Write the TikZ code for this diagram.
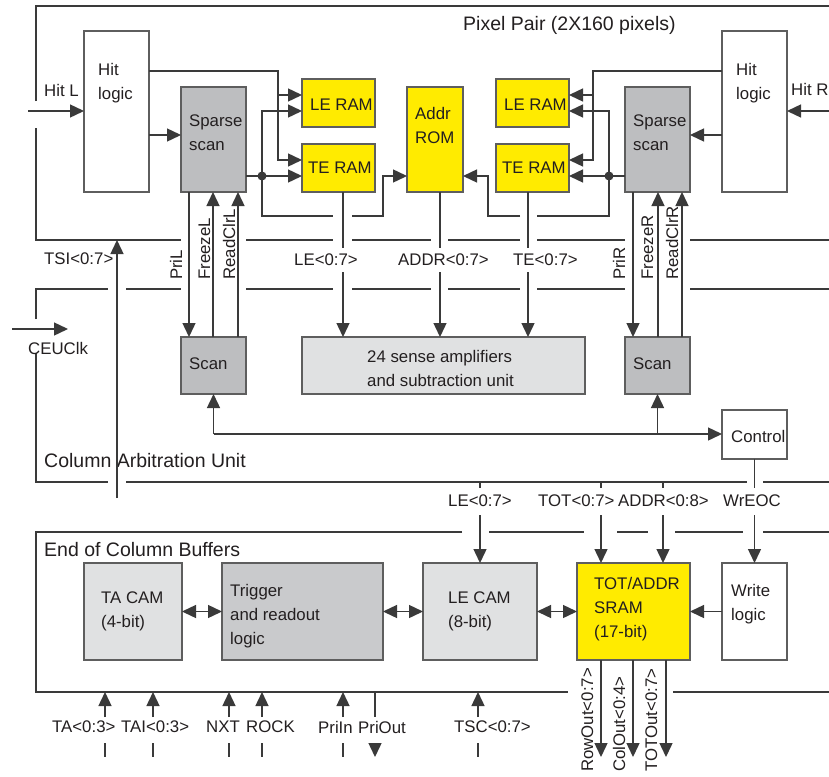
\documentclass[tikz,border=0pt]{standalone}
\usepackage{fontspec}
\setmainfont{Liberation Sans}
\usetikzlibrary{arrows.meta}
\definecolor{ln}{HTML}{3A3A3A}
\definecolor{bd}{HTML}{5E5E5E}
\definecolor{ylw}{HTML}{FFEB00}
\definecolor{gA}{HTML}{BDBEC0}
\definecolor{gB}{HTML}{E0E1E2}
\definecolor{gC}{HTML}{C9CACC}
\definecolor{txt}{HTML}{231F20}
\newcommand{\mkbox}[6]{\node[blk,fill=#6,anchor=north west,minimum width={(#4-#2)*1pt},minimum height={(#5-#3)*1pt}] (#1) at (#2,#3) {};}
\begin{document}
\begin{tikzpicture}[x=1pt,y=-1pt,
  blk/.style={draw=bd, line width=1.5pt, inner sep=0pt, outer sep=0pt},
  wire/.style={draw=ln, line width=1.4pt},
  arr/.style={wire, -{Triangle[length=14pt,width=13pt]}},
  darr/.style={wire, {Triangle[length=14pt,width=13pt]}-{Triangle[length=14pt,width=13pt]}},
  frame/.style={draw=ln, line width=1.5pt},
  lbl/.style={inner sep=0pt, anchor=north west, align=left, text=txt, font=\fontsize{16.8}{24}\selectfont},
  ttl/.style={lbl, font=\fontsize{19.5}{24}\selectfont},
  vlbl/.style={inner sep=0pt, anchor=base west, rotate=90, text=txt, font=\fontsize{16.8}{20}\selectfont},
  dotn/.style={circle, fill=ln, inner sep=0pt, minimum size=9pt}
]
\useasboundingbox (0,0) rectangle (829,776);
\fill[white] (0,0) rectangle (829,776);

% ---------- region frames ----------
\draw[frame] (36,101) -- (36,6) -- (829,6);
\draw[frame] (36,128) -- (36,240) -- (181,240);
\foreach \a/\b in {246/333,352/431,448/520,537/625,690/829} \draw[frame] (\a,240) -- (\b,240);
\draw[frame] (36,319) -- (36,289) -- (108,289);
\foreach \a/\b in {126/181,246/333,352/431,448/520,537/625,690/829} \draw[frame] (\a,289) -- (\b,289);
\draw[frame] (36,353) -- (36,482) -- (108,482);
\draw[frame] (126,482) -- (747,482);
\draw[frame] (763,482) -- (829,482);
\draw[frame] (462,532) -- (36,532) -- (36,692) -- (568,692);
\foreach \a/\b in {489/584,617/648,675/743,763/829} \draw[frame] (\a,532) -- (\b,532);
\draw[frame] (673,692) -- (829,692);

% ---------- boxes ----------
\mkbox{hitL}{84}{31}{149}{192}{white}
\mkbox{spL}{181}{87}{246}{192}{gA}
\mkbox{leL}{302}{79}{375}{127}{ylw}
\mkbox{teL}{302}{144}{375}{192}{ylw}
\mkbox{rom}{407}{87}{463}{192}{ylw}
\mkbox{leR}{496}{79}{569}{127}{ylw}
\mkbox{teR}{496}{144}{569}{192}{ylw}
\mkbox{spR}{625}{87}{690}{192}{gA}
\mkbox{hitR}{722}{31}{787}{192}{white}
\mkbox{scL}{181}{337}{246}{394}{gA}
\mkbox{sense}{302}{337}{585}{394}{gB}
\mkbox{scR}{625}{337}{690}{394}{gA}
\mkbox{ctrl}{722}{410}{787}{459}{white}
\mkbox{tacam}{84}{563}{182}{660}{gB}
\mkbox{trig}{222}{563}{383}{660}{gC}
\mkbox{lecam}{423}{563}{537}{660}{gB}
\mkbox{sram}{577}{563}{690}{660}{ylw}
\mkbox{wlog}{722}{563}{787}{660}{white}

% ---------- texts ----------
\node[ttl] (tPix) at (463,16) {Pixel Pair (2X160 pixels)};
\node[lbl] (tHitL) at (98,63) {Hit\\logic};
\node[lbl] (tSpL) at (189,115) {Sparse\\scan};
\node[lbl] (tLeL) at (310,99) {LE RAM};
\node[lbl] (tTeL) at (308,162) {TE RAM};
\node[lbl] (tRom) at (415,107) {Addr\\ROM};
\node[lbl] (tLeR) at (504,99) {LE RAM};
\node[lbl] (tTeR) at (502,162) {TE RAM};
\node[lbl] (tSpR) at (633,115) {Sparse\\scan};
\node[lbl] (tHitR) at (736,63) {Hit\\logic};
\node[lbl] (tHitLl) at (44,84) {Hit L};
\node[lbl] (tHitRl) at (791,83) {Hit R};
\node[lbl] (tTSI) at (44,253) {TSI<0:7>};
\node[lbl] (tLE1) at (294,254) {LE<0:7>};
\node[lbl] (tADDR1) at (398,254) {ADDR<0:7>};
\node[lbl] (tTE1) at (513,254) {TE<0:7>};
\node[vlbl] (tPriL) at (182,280) {PriL};
\node[vlbl] (tFrL) at (210,280) {FreezeL};
\node[vlbl] (tRcL) at (235,280) {ReadClrL};
\node[vlbl] (tPriR) at (625,280) {PriR};
\node[vlbl] (tFrR) at (653,280) {FreezeR};
\node[vlbl] (tRcR) at (678,280) {ReadClrR};
\node[lbl] (tCEU) at (28,342) {CEUClk};
\node[lbl] (tScL) at (189,358) {Scan};
\node[lbl] (tScR) at (633,358) {Scan};
\node[lbl] (tSense) at (367,350) {24 sense amplifiers\\and subtraction unit};
\node[lbl] (tCtrl) at (731,430) {Control};
\node[ttl] (tCAU) at (44,453) {Column Arbitration Unit};
\node[lbl] (tLE2) at (448,495) {LE<0:7>};
\node[lbl] (tTOT) at (538,495) {TOT<0:7>};
\node[lbl] (tADDR2) at (618,495) {ADDR<0:8>};
\node[lbl] (tWr) at (723,495) {WrEOC};
\node[ttl] (tEOC) at (44,542) {End of Column Buffers};
\node[lbl] (tTA) at (101,592) {TA CAM\\(4-bit)};
\node[lbl] (tTrig) at (230,584) {Trigger\\and readout\\logic};
\node[lbl] (tLEC) at (448,592) {LE CAM\\(8-bit)};
\node[lbl] (tSRAM) at (594,577) {TOT/ADDR\\SRAM\\(17-bit)};
\node[lbl] (tWl) at (731,584) {Write\\logic};
\node[lbl] (bTA) at (52,721) {TA<0:3>};
\node[lbl] (bTAI) at (121,721) {TAI<0:3>};
\node[lbl] (bNXT) at (206,721) {NXT};
\node[lbl] (bROCK) at (246,721) {ROCK};
\node[lbl] (bPriIn) at (318,721) {PriIn};
\node[lbl] (bPriOut) at (358,721) {PriOut};
\node[lbl] (bTSC) at (454,721) {TSC<0:7>};
\node[vlbl] (tRow) at (593,772) {RowOut<0:7>};
\node[vlbl] (tCol) at (625,772) {ColOut<0:4>};
\node[vlbl] (tTOTo) at (657,772) {TOTOut<0:7>};

% ---------- pixel pair connectors ----------
\coordinate (hlin) at (28,111);
\coordinate (hrin) at (829,111);
\draw[arr] (hlin) -- (hitL.west |- hlin);
\draw[arr] (hrin) -- (hitR.east |- hrin);
\draw[arr] (hitL.east |- 0,135) -- (spL.west |- 0,135);
\draw[arr] (hitR.west |- 0,135) -- (spR.east |- 0,135);

\coordinate (jL) at (278,95);
\draw[arr] (hitL.east |- 0,71) -| (278,160) -- (teL.west |- 0,160);
\draw[arr] (jL) -- (leL.west |- jL);
\coordinate (dLc) at (262,176);
\draw[arr] (spL.east |- dLc) -- (teL.west |- dLc);
\draw[arr] (dLc) |- (leL.west |- 0,111);
\draw[wire] (dLc) |- (333,216);
\draw[arr] (352,216) -| (383,176) -- (rom.west |- 0,176);
\node[dotn] (dL) at (dLc) {};

\coordinate (jR) at (593,95);
\draw[arr] (hitR.west |- 0,71) -| (593,160) -- (teR.east |- 0,160);
\draw[arr] (jR) -- (leR.east |- jR);
\coordinate (dRc) at (609,176);
\draw[arr] (spR.west |- dRc) -- (teR.east |- dRc);
\draw[arr] (dRc) |- (leR.east |- 0,111);
\draw[wire] (dRc) |- (537,216);
\draw[arr] (520,216) -| (488,176) -- (rom.east |- 0,176);
\node[dotn] (dR) at (dRc) {};

% outputs to sense amplifiers
\draw[wire] (teL.south -| 343,0) -- (343,248);
\draw[arr] (343,272) -- (sense.north -| 343,0);
\draw[wire] (rom.south -| 440,0) -- (440,248);
\draw[arr] (440,272) -- (sense.north -| 440,0);
\draw[wire] (teR.south -| 528,0) -- (528,248);
\draw[arr] (528,272) -- (sense.north -| 528,0);

% sparse scan <-> scan
\draw[arr] (spL.south -| 189,0) -- (scL.north -| 189,0);
\draw[arr] (scL.north -| 213,0) -- (spL.south -| 213,0);
\draw[arr] (scL.north -| 238,0) -- (spL.south -| 238,0);
\draw[arr] (spR.south -| 633,0) -- (scR.north -| 633,0);
\draw[arr] (scR.north -| 658,0) -- (spR.south -| 658,0);
\draw[arr] (scR.north -| 682,0) -- (spR.south -| 682,0);

% TSI and CEUClk
\coordinate (tsiA) at (117,498);
\coordinate (tsiB) at (117,240);
\draw[arr] (tsiA) -- (tsiB);
\coordinate (ceuA) at (12,329);
\coordinate (ceuB) at (68,329);
\draw[arr] (ceuA) -- (ceuB);

% control bus
\coordinate (bus) at (scL.south |- 0,434);
\draw[arr] (bus) -- (scL.south);
\draw[arr] (bus) -- (ctrl.west |- bus);
\draw[arr] (scR.south |- bus) -- (scR.south);

% ---------- to end of column buffers ----------
\draw[wire] (ctrl.south) -- (ctrl.south |- 0,488);
\draw[arr] (wlog.north |- 0,515) -- (wlog.north);
\draw[wire] (lecam.north |- 0,482) -- (lecam.north |- 0,488);
\draw[arr] (lecam.north |- 0,515) -- (lecam.north);
\draw[wire] (601,482) -- (601,488);
\draw[arr] (601,515) -- (sram.north -| 601,0);
\draw[wire] (663,482) -- (663,488);
\draw[arr] (663,515) -- (sram.north -| 663,0);

\draw[darr] (tacam.east) -- (trig.west);
\draw[darr] (trig.east) -- (lecam.west);
\draw[darr] (lecam.east) -- (sram.west);
\draw[arr] (wlog.west) -- (sram.east);

% outputs of SRAM
\foreach \x/\n in {601/ro,633/co,666/to} {
  \coordinate (\n) at (\x,757);
  \draw[arr] (sram.south -| \x,0) -- (\n);
}

% bottom inputs
\foreach \x in {105,153,229,262,343,478} {
  \draw[arr] (\x,717) -- (\x,692);
  \draw[wire] (\x,743) -- (\x,757);
}
\draw[wire] (375,692) -- (375,717);
\draw[arr] (375,743) -- (375,757);

\end{tikzpicture}
\end{document}
